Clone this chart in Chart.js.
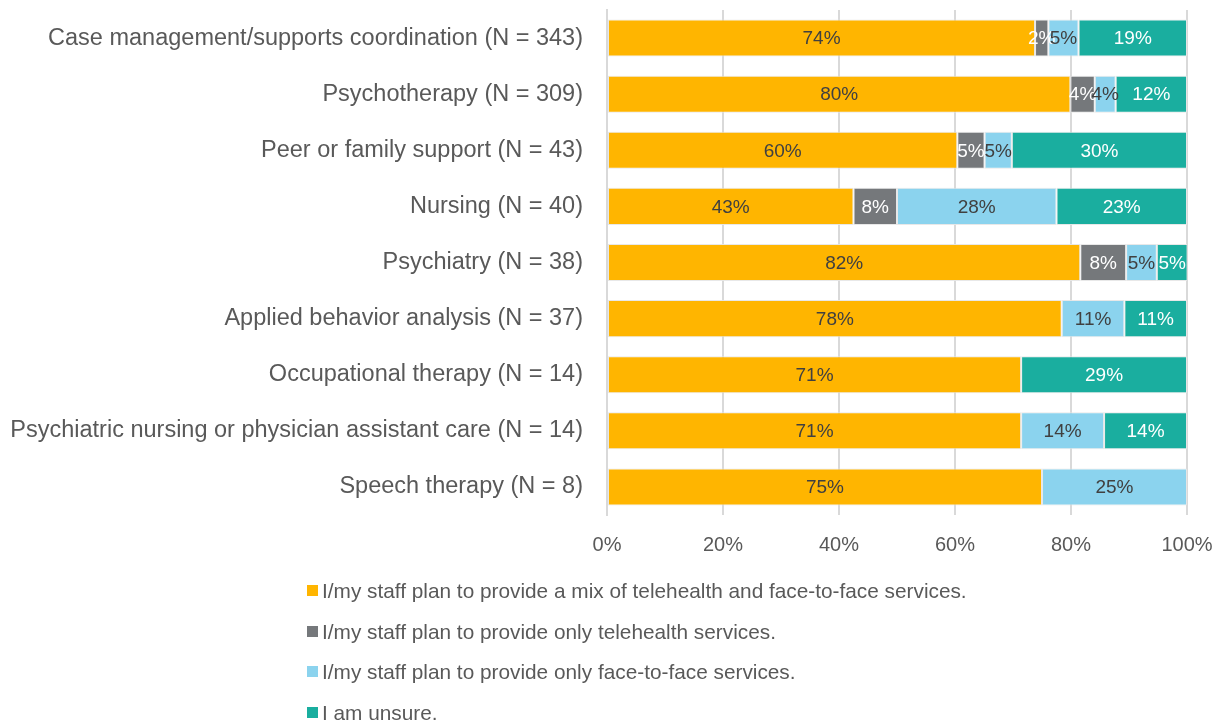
<!DOCTYPE html>
<html>
<head>
<meta charset="utf-8">
<script src="https://cdn.jsdelivr.net/npm/chart.js@4/dist/chart.umd.min.js"></script>
<style>
  html, body { margin: 0; padding: 0; background: #fff; }
  #wrap { position: relative; width: 1215px; height: 721px; overflow: hidden; }
  #legend { position: absolute; left: 307px; top: 577px; font-family: "Liberation Sans", Arial, sans-serif; font-size: 20.8px; color: #595959; }
  #legend div { height: 40.7px; line-height: 28px; white-space: nowrap; }
  #legend span.box { display: inline-block; width: 11px; height: 11px; margin-right: 4px; vertical-align: 2px; }
</style>
</head>
<body>
<div id="wrap">
  <canvas id="c" width="1215" height="721"></canvas>
  <div id="legend"></div>
</div>
<script>
const categories = [
  "Case management/supports coordination (N = 343)",
  "Psychotherapy (N = 309)",
  "Peer or family support (N = 43)",
  "Nursing (N = 40)",
  "Psychiatry (N = 38)",
  "Applied behavior analysis (N = 37)",
  "Occupational therapy (N = 14)",
  "Psychiatric nursing or physician assistant care (N = 14)",
  "Speech therapy (N = 8)"
];
const seriesNames = [
  "I/my staff plan to provide a mix of telehealth and face-to-face services.",
  "I/my staff plan to provide only telehealth services.",
  "I/my staff plan to provide only face-to-face services.",
  "I am unsure."
];
const mixValues        = [73.8, 79.9, 60.4, 42.5, 81.6, 78.4, 71.4, 71.4, 75.0];
const telehealthValues = [2.3, 4.2, 4.7, 7.5, 7.9, 0, 0, 0, 0];
const faceValues       = [5.2, 3.6, 4.7, 27.5, 5.3, 10.8, 0, 14.3, 25.0];
const unsureValues     = [18.7, 12.3, 30.2, 22.5, 5.3, 10.8, 28.6, 14.3, 0];
const xTickLabels = ["0%", "20%", "40%", "60%", "80%", "100%"];

const colors = ["#FFB500", "#75787B", "#8BD3EE", "#1AAE9F"];
const labelColors = ["#404040", "#ffffff", "#404040", "#ffffff"];
const FONT = "'Liberation Sans', Arial, sans-serif";

const allSeries = [mixValues, telehealthValues, faceValues, unsureValues];

const labelPlugin = {
  id: 'segLabels',
  afterDatasetsDraw(chart) {
    const ctx = chart.ctx;
    ctx.save();
    ctx.font = "19px " + FONT;
    ctx.textAlign = 'center';
    ctx.textBaseline = 'middle';
    chart.data.datasets.forEach((ds, di) => {
      const meta = chart.getDatasetMeta(di);
      meta.data.forEach((el, i) => {
        const v = ds.data[i];
        if (!v) return;
        const p = el.getCenterPoint();
        ctx.fillStyle = labelColors[di];
        ctx.fillText(Math.round(v) + "%", p.x, p.y + 1);
      });
    });
    ctx.restore();
  }
};

new Chart(document.getElementById('c'), {
  type: 'bar',
  data: {
    labels: categories,
    datasets: allSeries.map((d, i) => ({
      label: seriesNames[i],
      data: d,
      backgroundColor: colors[i],
      borderColor: 'rgba(230,230,230,0.9)',
      borderWidth: 1,
      borderSkipped: false,
      barPercentage: 0.66,
      categoryPercentage: 1.0
    }))
  },
  options: {
    indexAxis: 'y',
    responsive: false,
    animation: false,
    layout: { padding: { top: 10, right: 28, bottom: 161, left: 0 } },
    plugins: { legend: { display: false }, tooltip: { enabled: false } },
    scales: {
      x: {
        stacked: true,
        min: 0, max: 100,
        ticks: {
          stepSize: 20,
          padding: 18,
          color: '#595959',
          font: { family: FONT, size: 20 },
          callback: (v, i) => xTickLabels[i]
        },
        grid: { color: '#D9D9D9', lineWidth: 2, drawTicks: false },
        border: { display: false },
        afterFit: s => { s.height = 45; s.paddingLeft = 0; s.paddingRight = 0; }
      },
      y: {
        stacked: true,
        ticks: {
          padding: 24,
          color: '#595959',
          font: { family: FONT, size: 23.5 }
        },
        grid: { display: false, drawTicks: false },
        border: { display: true, color: '#D9D9D9', width: 2 },
        afterFit: s => { s.width = 607; s.paddingTop = 0; s.paddingBottom = 0; }
      }
    }
  },
  plugins: [labelPlugin]
});

const lg = document.getElementById('legend');
seriesNames.forEach((n, i) => {
  const d = document.createElement('div');
  const b = document.createElement('span');
  b.className = 'box';
  b.style.background = colors[i];
  d.appendChild(b);
  d.appendChild(document.createTextNode(n));
  lg.appendChild(d);
});
</script>
</body>
</html>
